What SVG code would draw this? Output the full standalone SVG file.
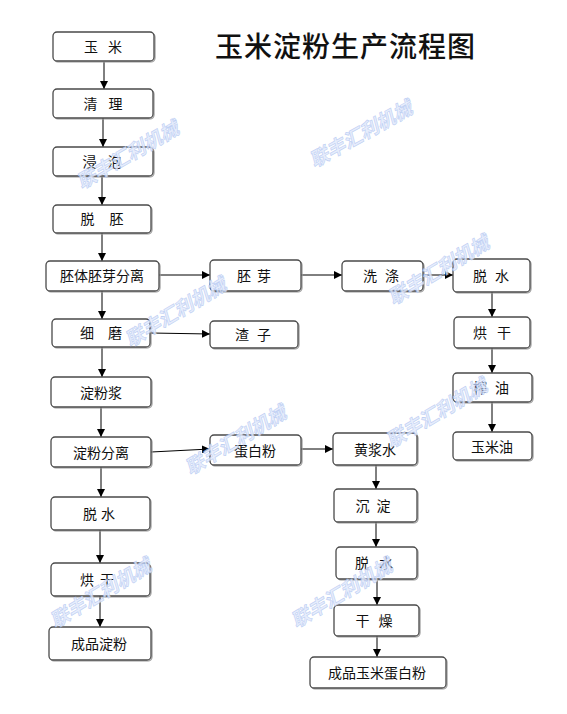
<svg xmlns="http://www.w3.org/2000/svg" width="567" height="714" viewBox="0 0 567 714">
<style>
.box{fill:#fff;stroke:#4a4a4a;stroke-width:1.3}
.sh{fill:none;stroke:#9a9a9a;stroke-width:1.2}
.t{font-family:"Noto Sans CJK SC","Noto Sans CJK JP",sans-serif;font-size:14px;fill:#111;text-anchor:middle}
.title{font-family:"Noto Sans CJK SC","Noto Sans CJK JP",serif;font-size:28px;font-weight:500;fill:#111;letter-spacing:1px}
.c{stroke:#000;stroke-width:1;fill:none;marker-end:url(#ah)}
.wm{font-family:"Noto Sans CJK SC","Noto Sans CJK JP",sans-serif;font-size:19px;font-weight:bold;font-style:italic;fill:#e3ebfc;stroke:#b3c7f2;stroke-width:0.6;text-anchor:middle;opacity:0.85}
</style>
<defs>
<marker id="ah" viewBox="0 0 10 10" refX="10" refY="5" markerWidth="8" markerHeight="8" markerUnits="userSpaceOnUse" orient="auto">
<path d="M0,0 L10,5 L0,10 Z" fill="#000"/>
</marker>
</defs>
<rect width="567" height="714" fill="#fff"/>
<text class="title" x="215" y="57">玉米淀粉生产流程图</text>

<g id="connectors">
<line class="c" x1="104" y1="62" x2="104" y2="89"/>
<line class="c" x1="103" y1="118" x2="103" y2="147"/>
<line class="c" x1="102" y1="177" x2="102" y2="205"/>
<line class="c" x1="102" y1="233" x2="102" y2="261"/>
<line class="c" x1="102" y1="291" x2="102" y2="319"/>
<line class="c" x1="159" y1="275" x2="210" y2="275"/>
<line class="c" x1="151" y1="333" x2="210" y2="334"/>
<line class="c" x1="102" y1="347" x2="102" y2="377"/>
<line class="c" x1="301" y1="275" x2="342" y2="275"/>
<line class="c" x1="423" y1="275" x2="453" y2="275"/>
<line class="c" x1="492" y1="292" x2="492" y2="317"/>
<line class="c" x1="492" y1="348" x2="492" y2="373"/>
<line class="c" x1="492" y1="402" x2="492" y2="432"/>
<line class="c" x1="101" y1="407" x2="101" y2="437"/>
<line class="c" x1="151" y1="452" x2="210" y2="449"/>
<line class="c" x1="301" y1="449" x2="333" y2="449"/>
<line class="c" x1="101" y1="467" x2="101" y2="497"/>
<line class="c" x1="100" y1="530" x2="100" y2="563"/>
<line class="c" x1="100" y1="596" x2="100" y2="627"/>
<line class="c" x1="376" y1="465" x2="376" y2="489"/>
<line class="c" x1="376" y1="522" x2="376" y2="547"/>
<line class="c" x1="377" y1="579" x2="377" y2="605"/>
<line class="c" x1="377" y1="636" x2="377" y2="657"/>
</g>

<g id="n1"><rect class="sh" x="54" y="33" width="101" height="29" rx="4"/><rect class="box" x="53" y="32" width="101" height="29" rx="4"/><text class="t" x="103" y="52" word-spacing="7">玉 米</text></g>
<g id="n2"><rect class="sh" x="54" y="90" width="100" height="29" rx="4"/><rect class="box" x="53" y="89" width="100" height="29" rx="4"/><text class="t" x="103" y="109" word-spacing="8">清 理</text></g>
<g id="n3"><rect class="sh" x="54" y="148" width="100" height="29" rx="4"/><rect class="box" x="53" y="147" width="100" height="29" rx="4"/><text class="t" x="102" y="167" word-spacing="8">浸 泡</text></g>
<g id="n4"><rect class="sh" x="54" y="206" width="98" height="28" rx="4"/><rect class="box" x="53" y="205" width="98" height="28" rx="4"/><text class="t" x="102" y="224" word-spacing="12">脱 胚</text></g>
<g id="n5"><rect class="sh" x="47" y="262" width="113" height="30" rx="4"/><rect class="box" x="46" y="261" width="113" height="30" rx="4"/><text class="t" x="102" y="281">胚体胚芽分离</text></g>
<g id="n6"><rect class="sh" x="53" y="320" width="98" height="28" rx="4"/><rect class="box" x="52" y="319" width="98" height="28" rx="4"/><text class="t" x="101" y="338" word-spacing="11">细 磨</text></g>
<g id="n7"><rect class="sh" x="211" y="261" width="91" height="31" rx="4"/><rect class="box" x="210" y="260" width="91" height="31" rx="4"/><text class="t" x="254" y="281" word-spacing="3">胚 芽</text></g>
<g id="n8"><rect class="sh" x="211" y="322" width="88" height="27" rx="4"/><rect class="box" x="210" y="321" width="88" height="27" rx="4"/><text class="t" x="253" y="340" word-spacing="5">渣 子</text></g>
<g id="n9"><rect class="sh" x="343" y="262" width="81" height="30" rx="4"/><rect class="box" x="342" y="261" width="81" height="30" rx="4"/><text class="t" x="381" y="281" word-spacing="5">洗 涤</text></g>
<g id="n10"><rect class="sh" x="454" y="260" width="77" height="33" rx="4"/><rect class="box" x="453" y="259" width="77" height="33" rx="4"/><text class="t" x="491" y="281" word-spacing="5">脱 水</text></g>
<g id="n11"><rect class="sh" x="455" y="318" width="76" height="31" rx="4"/><rect class="box" x="454" y="317" width="76" height="31" rx="4"/><text class="t" x="492" y="338" word-spacing="7">烘 干</text></g>
<g id="n12"><rect class="sh" x="454" y="374" width="79" height="29" rx="4"/><rect class="box" x="453" y="373" width="79" height="29" rx="4"/><text class="t" x="491" y="393" word-spacing="5">榨 油</text></g>
<g id="n13"><rect class="sh" x="454" y="433" width="79" height="28" rx="4"/><rect class="box" x="453" y="432" width="79" height="28" rx="4"/><text class="t" x="492" y="452">玉米油</text></g>
<g id="n14"><rect class="sh" x="52" y="378" width="100" height="30" rx="4"/><rect class="box" x="51" y="377" width="100" height="30" rx="4"/><text class="t" x="101" y="398">淀粉浆</text></g>
<g id="n15"><rect class="sh" x="52" y="438" width="100" height="30" rx="4"/><rect class="box" x="51" y="437" width="100" height="30" rx="4"/><text class="t" x="101" y="458">淀粉分离</text></g>
<g id="n16"><rect class="sh" x="211" y="436" width="91" height="30" rx="4"/><rect class="box" x="210" y="435" width="91" height="30" rx="4"/><text class="t" x="255" y="456">蛋白粉</text></g>
<g id="n17"><rect class="sh" x="334" y="434" width="84" height="32" rx="4"/><rect class="box" x="333" y="433" width="84" height="32" rx="4"/><text class="t" x="375" y="455">黄浆水</text></g>
<g id="n18"><rect class="sh" x="52" y="498" width="99" height="33" rx="4"/><rect class="box" x="51" y="497" width="99" height="33" rx="4"/><text class="t" x="99" y="519" word-spacing="1">脱 水</text></g>
<g id="n19"><rect class="sh" x="52" y="564" width="99" height="33" rx="4"/><rect class="box" x="51" y="563" width="99" height="33" rx="4"/><text class="t" x="97" y="585" word-spacing="3">烘 干</text></g>
<g id="n20"><rect class="sh" x="50" y="628" width="102" height="33" rx="4"/><rect class="box" x="49" y="627" width="102" height="33" rx="4"/><text class="t" x="99" y="649">成品淀粉</text></g>
<g id="n21"><rect class="sh" x="335" y="490" width="83" height="33" rx="4"/><rect class="box" x="334" y="489" width="83" height="33" rx="4"/><text class="t" x="373" y="511" word-spacing="4">沉 淀</text></g>
<g id="n22"><rect class="sh" x="337" y="548" width="81" height="32" rx="4"/><rect class="box" x="336" y="547" width="81" height="32" rx="4"/><text class="t" x="374" y="568" word-spacing="7">脱 水</text></g>
<g id="n23"><rect class="sh" x="335" y="606" width="85" height="31" rx="4"/><rect class="box" x="334" y="605" width="85" height="31" rx="4"/><text class="t" x="374" y="626" word-spacing="6">干 燥</text></g>
<g id="n24"><rect class="sh" x="311" y="658" width="136" height="31" rx="4"/><rect class="box" x="310" y="657" width="136" height="31" rx="4"/><text class="t" x="377" y="678">成品玉米蛋白粉</text></g>

<g id="watermarks">
<text class="wm" transform="translate(131,161) rotate(-30)">联丰汇利机械</text>
<text class="wm" transform="translate(364,140) rotate(-29)">联丰汇利机械</text>
<text class="wm" transform="translate(179,318) rotate(-31)">联丰汇利机械</text>
<text class="wm" transform="translate(442,276) rotate(-31)">联丰汇利机械</text>
<text class="wm" transform="translate(239,446) rotate(-31)">联丰汇利机械</text>
<text class="wm" transform="translate(440,419) rotate(-31)">联丰汇利机械</text>
<text class="wm" transform="translate(345,599) rotate(-31)">联丰汇利机械</text>
<text class="wm" transform="translate(104,599) rotate(-31)">联丰汇利机械</text>
</g>
</svg>
